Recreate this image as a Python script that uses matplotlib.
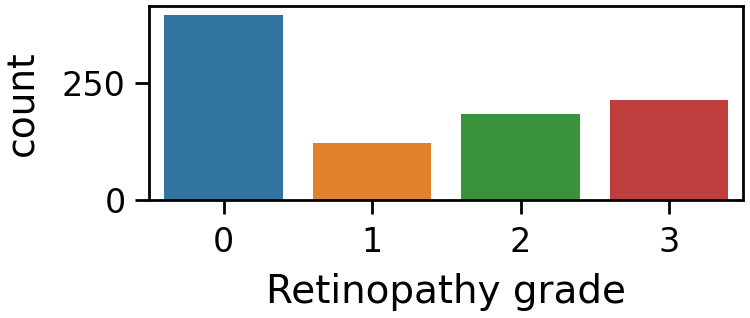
import matplotlib
matplotlib.use("Agg")
import matplotlib.pyplot as plt
import seaborn as sns

# datos
grados = ["0", "1", "2", "3"]
conteos = [393, 122, 182, 212]

fig = plt.figure(figsize=(7.5, 3.18), dpi=100)
ax = fig.add_axes([0.199, 0.371, 0.792, 0.61])

sns.barplot(x=grados, y=conteos, hue=grados, palette="tab10", saturation=0.75,
            legend=False, ax=ax)

ax.set_xlabel("Retinopathy grade", fontsize=28, labelpad=10)
ax.set_ylabel("count", fontsize=27, labelpad=15)
ax.set_yticks([0, 250])
ax.tick_params(labelsize=24, length=10, width=2, pad=7)
ax.tick_params(axis="x", pad=9)
for s in ax.spines.values():
    s.set_linewidth(2)

fig.savefig("out.png", dpi=100)
